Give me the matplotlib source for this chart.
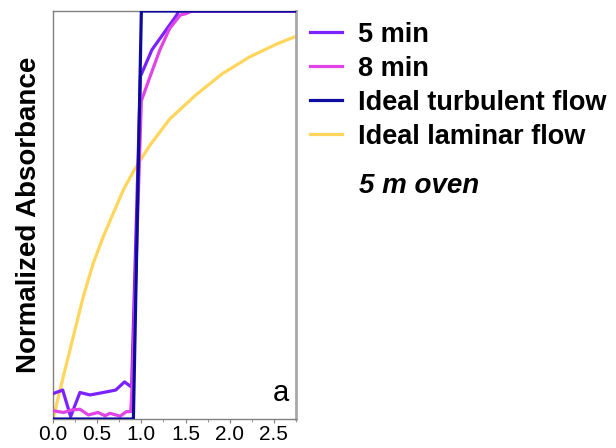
import matplotlib
matplotlib.use("Agg")
import matplotlib.pyplot as plt
from matplotlib.ticker import MultipleLocator

plt.rcParams['font.family'] = ['Liberation Sans', 'DejaVu Sans']

# 5 min measured curve
x_5min = [0.01, 0.11, 0.20, 0.305, 0.42, 0.57, 0.71, 0.81, 0.89, 0.99, 1.12, 1.40, 1.42, 2.75]
y_5min = [0.063, 0.071, 0.006, 0.065, 0.059, 0.065, 0.071, 0.091, 0.078, 0.84, 0.905, 0.99, 1.0, 1.0]

# 8 min measured curve
x_8min = [0.01, 0.12, 0.21, 0.305, 0.40, 0.51, 0.59, 0.645, 0.76, 0.83, 0.88, 0.90, 1.0, 1.10, 1.21, 1.32, 1.44, 1.51, 1.57, 2.75]
y_8min = [0.02, 0.016, 0.022, 0.024, 0.01, 0.016, 0.008, 0.014, 0.007, 0.018, 0.018, 0.10, 0.78, 0.84, 0.905, 0.957, 0.99, 0.994, 1.0, 1.0]

# Ideal turbulent flow
x_turb = [0.0, 0.91, 1.0, 2.75]
y_turb = [0.0, 0.0, 1.0, 1.0]

# Ideal laminar flow
x_lam = [0.0, 0.117, 0.23, 0.343, 0.456, 0.569, 0.682, 0.795, 0.908, 1.02, 1.10, 1.32, 1.62, 1.92, 2.23, 2.53, 2.75]
y_lam = [0.0, 0.104, 0.202, 0.30, 0.382, 0.447, 0.504, 0.561, 0.606, 0.645, 0.672, 0.735, 0.795, 0.847, 0.888, 0.919, 0.938]

labels = ["5 min", "8 min", "Ideal turbulent flow", "Ideal laminar flow"]
colors = ["#7A22FF", "#E044E6", "#0B0B9C", "#FFD55C"]

fig = plt.figure(figsize=(6.16, 4.48), dpi=100)
ax = fig.add_axes([0.086, 0.0647, 0.3945, 0.9107])

lw = 2.3
ax.plot(x_lam, y_lam, color=colors[3], lw=lw, label=labels[3], zorder=2)
ax.plot(x_5min, y_5min, color=colors[0], lw=lw, label=labels[0], zorder=3)
ax.plot(x_8min, y_8min, color=colors[1], lw=lw, label=labels[1], zorder=4)
ax.plot(x_turb, y_turb, color=colors[2], lw=lw, label=labels[2], zorder=5)

ax.set_xlim(0, 2.75)
ax.set_ylim(0, 1.0)
ax.xaxis.set_major_locator(MultipleLocator(0.5))
ax.xaxis.set_minor_locator(MultipleLocator(0.25))
ax.set_yticks([])
ax.tick_params(axis='x', which='major', direction='out', length=3, color='#808080', labelsize=15, pad=1)
ax.tick_params(axis='x', which='minor', direction='out', length=2.5, color='#808080')
for s in ax.spines.values():
    s.set_color('#808080')
    s.set_linewidth(1.0)
ax.spines['right'].set_linewidth(2.0)
ax.spines['right'].set_color('#A8A8A8')

ax.set_ylabel("Normalized Absorbance", fontsize=20, fontweight='bold', labelpad=8)
ax.text(0.97, 0.03, "a", transform=ax.transAxes, fontsize=21, ha='right', va='bottom')

handles, labs = ax.get_legend_handles_labels()
order = [labs.index(l) for l in labels]
leg = fig.legend([handles[i] for i in order], [labs[i] for i in order],
                 loc='upper left', bbox_to_anchor=(0.485, 0.976), frameon=False,
                 prop={'size': 19.5, 'weight': 'bold'}, handlelength=1.2,
                 handletextpad=0.6, labelspacing=0.3, borderaxespad=0)

fig.text(359/616, 1 - 186/448, "5 m oven", fontsize=20, fontweight='bold', style='italic',
         ha='left', va='center')

fig.savefig("out.png", dpi=100)
